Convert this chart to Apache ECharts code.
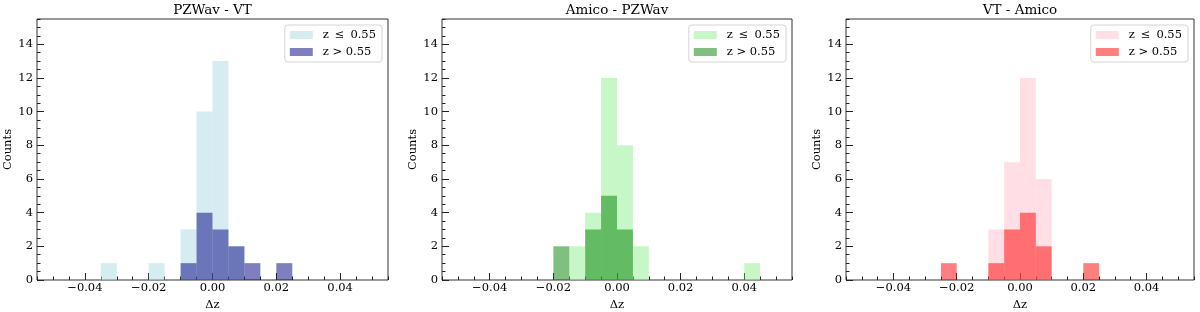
<!DOCTYPE html>
<html>
<head>
<meta charset="utf-8">
<script src="https://cdn.jsdelivr.net/npm/echarts@6/dist/echarts.min.js"></script>
<style>
  html, body { margin: 0; padding: 0; background: #fff; }
  #chart { width: 1200px; height: 312px; }
</style>
</head>
<body>
<div id="chart"></div>
<script>
// ---------- data ----------
const BIN_WIDTH = 0.005;
const panelTitles = ['PZWav - VT', 'Amico - PZWav', 'VT - Amico'];
const legendLabels = ['z \u2009\u2264\u2009 0.55', 'z > 0.55'];

// PZWav - VT
const pzwavVtLowStarts  = [-0.035, -0.020, -0.010, -0.005, 0.000, 0.005];
const pzwavVtLowCounts  = [1, 1, 3, 10, 13, 2];
const pzwavVtHighStarts = [-0.010, -0.005, 0.000, 0.005, 0.010, 0.020];
const pzwavVtHighCounts = [1, 4, 3, 2, 1, 1];

// Amico - PZWav
const amicoPzwavLowStarts  = [-0.015, -0.010, -0.005, 0.000, 0.005, 0.040];
const amicoPzwavLowCounts  = [2, 4, 12, 8, 2, 1];
const amicoPzwavHighStarts = [-0.020, -0.010, -0.005, 0.000];
const amicoPzwavHighCounts = [2, 3, 5, 3];

// VT - Amico
const vtAmicoLowStarts  = [-0.010, -0.005, 0.000, 0.005];
const vtAmicoLowCounts  = [3, 7, 12, 6];
const vtAmicoHighStarts = [-0.025, -0.010, -0.005, 0.000, 0.005, 0.020];
const vtAmicoHighCounts = [1, 1, 3, 4, 2, 1];

// ---------- styling / layout ----------
const FONT = 'DejaVu Serif';
const panelColors = [
  ['rgba(173,216,230,0.5)', 'rgba(0,0,128,0.5)'],
  ['rgba(144,238,144,0.5)', 'rgba(0,128,0,0.5)'],
  ['rgba(255,192,203,0.5)', 'rgba(255,0,0,0.5)']
];
const gridLefts  = [37, 442, 846];
const gridRights = [388, 792, 1194];
const GRID_TOP = 19, GRID_BOTTOM = 280;

const panels = [
  [[pzwavVtLowStarts, pzwavVtLowCounts], [pzwavVtHighStarts, pzwavVtHighCounts]],
  [[amicoPzwavLowStarts, amicoPzwavLowCounts], [amicoPzwavHighStarts, amicoPzwavHighCounts]],
  [[vtAmicoLowStarts, vtAmicoLowCounts], [vtAmicoHighStarts, vtAmicoHighCounts]]
];

function toBins(starts, counts) {
  return starts.map((s, k) => [s, s + BIN_WIDTH, counts[k]]);
}

function renderBar(params, api) {
  const x0 = api.value(0), x1 = api.value(1), c = api.value(2);
  const p0 = api.coord([x0, 0]);
  const p1 = api.coord([x1, c]);
  return {
    type: 'rect',
    shape: { x: p0[0], y: p1[1], width: p1[0] - p0[0], height: p0[1] - p1[1] },
    style: api.style()
  };
}

const fmtX = v => (v < 0 ? '\u2212' : '') + Math.abs(v).toFixed(2);
const tickColor = '#222';
const hiddenLine = { show: false, onZero: false };

const grids = [], xAxes = [], yAxes = [], series = [], legends = [], graphics = [];
const legendNameMap = {};

for (let i = 0; i < 3; i++) {
  grids.push({
    left: gridLefts[i], width: gridRights[i] - gridLefts[i],
    top: GRID_TOP, height: GRID_BOTTOM - GRID_TOP,
    containLabel: false, outerBoundsMode: 'none',
    show: true, borderColor: '#333', borderWidth: 1, backgroundColor: 'transparent'
  });
  // major x
  xAxes.push({
    type: 'value', gridIndex: i, position: 'bottom', min: -0.055, max: 0.055, splitNumber: 5,
    axisLine: hiddenLine,
    axisTick: { show: true, inside: true, length: 7, lineStyle: { color: tickColor, width: 1 } },
    axisLabel: { showMinLabel: false, showMaxLabel: false, formatter: fmtX,
      fontFamily: FONT, fontSize: 11.5, color: '#000', margin: 2 },
    splitLine: { show: false },
    name: '\u0394z', nameLocation: 'middle', nameGap: 16,
    nameTextStyle: { fontFamily: FONT, fontSize: 11.5, color: '#000' }
  });
  // minor x
  xAxes.push({
    type: 'value', gridIndex: i, position: 'bottom', min: -0.055, max: 0.055, interval: 0.005,
    axisLine: hiddenLine,
    axisTick: { show: true, inside: true, length: 3.5, lineStyle: { color: tickColor, width: 1 } },
    axisLabel: { show: false }, splitLine: { show: false }
  });
  // major y
  yAxes.push({
    type: 'value', gridIndex: i, position: 'left', min: 0, max: 15.5, interval: 2,
    axisLine: hiddenLine,
    axisTick: { show: true, inside: true, length: 7, lineStyle: { color: tickColor, width: 1 } },
    axisLabel: { showMaxLabel: false, fontFamily: FONT, fontSize: 11.5, color: '#000', margin: 4 },
    splitLine: { show: false },
    name: 'Counts', nameLocation: 'middle', nameGap: 22,
    nameTextStyle: { fontFamily: FONT, fontSize: 11.5, color: '#000' }
  });
  // minor y
  yAxes.push({
    type: 'value', gridIndex: i, position: 'left', min: 0, max: 15.5, interval: 0.5,
    axisLine: hiddenLine,
    axisTick: { show: true, inside: true, length: 3.5, lineStyle: { color: tickColor, width: 1 } },
    axisLabel: { show: false }, splitLine: { show: false }
  });

  const names = [];
  panels[i].forEach((pair, j) => {
    const name = 'p' + i + '_' + j;
    legendNameMap[name] = legendLabels[j];
    names.push(name);
    series.push({
      type: 'custom', name: name,
      xAxisIndex: 2 * i, yAxisIndex: 2 * i,
      renderItem: renderBar, clip: true,
      itemStyle: { color: panelColors[i][j] },
      encode: { x: [0, 1], y: 2 },
      data: toBins(pair[0], pair[1]),
      z: 2 + j
    });
  });

  legends.push({
    data: names.map(n => ({ name: n, icon: 'rect' })),
    orient: 'vertical',
    right: 1200 - gridRights[i] + 6, top: 25,
    itemWidth: 23, itemHeight: 8, itemGap: 5,
    padding: [4, 6, 4, 5],
    backgroundColor: 'rgba(255,255,255,0.8)',
    borderColor: '#d4d4d4', borderWidth: 1, borderRadius: 3,
    selectedMode: false,
    formatter: n => legendNameMap[n],
    textStyle: { fontFamily: FONT, fontSize: 11.5, color: '#000', padding: [0, 0, 0, 5] }
  });

  graphics.push({
    type: 'text',
    x: (gridLefts[i] + gridRights[i]) / 2, y: 10,
    style: { text: panelTitles[i], fontFamily: FONT, fontSize: 13.5, fill: '#000',
      textAlign: 'center', textVerticalAlign: 'middle' }
  });
}

const chart = echarts.init(document.getElementById('chart'), null, { renderer: 'canvas' });
chart.setOption({
  animation: false,
  backgroundColor: '#fff',
  grid: grids, xAxis: xAxes, yAxis: yAxes,
  legend: legends, series: series, graphic: graphics
});
</script>
</body>
</html>
